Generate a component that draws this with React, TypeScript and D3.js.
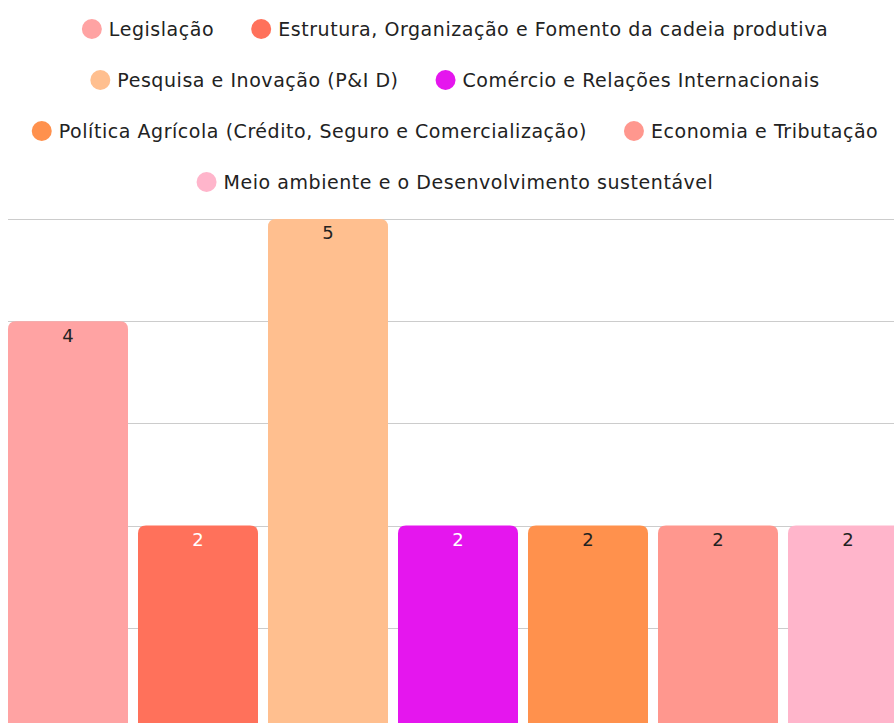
import React, { useEffect, useRef } from "react";
import * as d3 from "d3";

const categories = [
  "Legislação",
  "Estrutura, Organização e Fomento da cadeia produtiva",
  "Pesquisa e Inovação (P&I D)",
  "Comércio e Relações Internacionais",
  "Política Agrícola (Crédito, Seguro e Comercialização)",
  "Economia e Tributação",
  "Meio ambiente e o Desenvolvimento sustentável",
];
const values = [4, 2, 5, 2, 2, 2, 2];
const colors = ["#FFA3A3", "#FF715B", "#FFBF8F", "#E516EE", "#FF914D", "#FF978E", "#FFB5CB"];
const labelColors = ["#222", "#fff", "#222", "#fff", "#222", "#222", "#222"];
const legendRows = [[0, 1], [2, 3], [4, 5], [6]];
const gridTicks = [1, 2, 3, 4, 5];

const W = 894;
const H = 723;
const FONT = "'DejaVu Sans', sans-serif";
const FS = 19;

export default function App() {
  const ref = useRef<SVGSVGElement>(null);
  useEffect(() => {
    document.body.style.margin = "0";
    document.body.style.overflow = "hidden";
    document.documentElement.style.overflow = "hidden";
    const root = d3.select(ref.current);
    root.selectAll("*").remove();
    const svg = root.append("g").attr("transform", "translate(8,8)");
    const x = d3.scaleBand<number>().domain(d3.range(values.length)).range([0, 900]).paddingInner(10 / 130).paddingOuter(0);
    const y = d3.scaleLinear().domain([0, 5]).range([722, 211]);

    // legend
    const lg = svg.append("g");
    legendRows.forEach((row, ri) => {
      const cy = 21 + ri * 51;
      const g = lg.append("g");
      let cx = 0;
      row.forEach((idx, k) => {
        if (k > 0) cx += 37;
        g.append("circle").attr("cx", cx + 10).attr("cy", cy).attr("r", 10).attr("fill", colors[idx]);
        const t = g.append("text").attr("x", cx + 27).attr("y", cy).attr("dy", "0.36em")
          .attr("font-family", FONT).attr("font-size", FS).attr("letter-spacing", 0.55)
          .attr("fill", "#222").text(categories[idx]);
        const w = (t.node() as SVGTextElement).getComputedTextLength();
        cx += 27 + w;
      });
      g.attr("transform", `translate(${W / 2 - cx / 2},0)`);
    });

    // grid
    svg.append("g").selectAll("line").data(gridTicks).join("line")
      .attr("x1", 0).attr("x2", 900)
      .attr("y1", (d) => Math.round(y(d)) + 0.5).attr("y2", (d) => Math.round(y(d)) + 0.5)
      .attr("stroke", "#cccccc").attr("stroke-width", 1);

    const r = 8;
    const barPath = (i: number) => {
      const x0 = x(i)!, w = x.bandwidth(), top = y(values[i]), bot = y(0);
      return `M${x0},${bot}V${top + r}Q${x0},${top} ${x0 + r},${top}H${x0 + w - r}Q${x0 + w},${top} ${x0 + w},${top + r}V${bot}Z`;
    };
    svg.append("g").selectAll("path").data(values).join("path")
      .attr("d", (_d, i) => barPath(i)).attr("fill", (_d, i) => colors[i]);

    svg.append("g").selectAll("text").data(values).join("text")
      .attr("x", (_d, i) => x(i)! + x.bandwidth() / 2)
      .attr("y", (d) => y(d) + 14).attr("dy", "0.36em")
      .attr("text-anchor", "middle").attr("font-family", FONT).attr("font-size", 18)
      .attr("fill", (_d, i) => labelColors[i]).text((d) => String(d));
  }, []);
  return <svg ref={ref} width={W} height={H} style={{ display: "block", background: "#fff" }} />;
}
